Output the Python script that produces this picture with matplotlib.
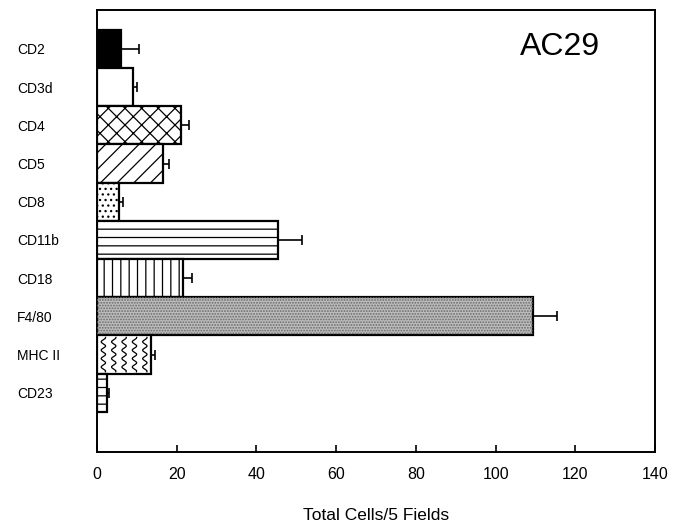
import numpy as np
import matplotlib
matplotlib.use("Agg")
import matplotlib.pyplot as plt

plt.rcParams['font.family'] = ['Liberation Sans', 'DejaVu Sans']
plt.rcParams['hatch.linewidth'] = 0.9

categories = ['CD2', 'CD3d', 'CD4', 'CD5', 'CD8', 'CD11b', 'CD18', 'F4/80', 'MHC II', 'CD23']
values = [6.0, 9.0, 21.0, 16.5, 5.5, 45.5, 21.5, 109.5, 13.5, 2.5]
errors = [4.5, 1.0, 2.0, 1.5, 1.0, 6.0, 2.3, 6.0, 1.0, 0.6]
xticks = [0, 20, 40, 60, 80, 100, 120, 140]

faces = ['black', 'white', 'white', 'white', 'white', 'white', 'white', '#bdbdbd', 'white', 'white']
hatches = [None, None, 'xx', '//', '...', '--', '||', None, None, '--']

fig = plt.figure(figsize=(6.9, 5.28), dpi=100)
ax = fig.add_axes([97/690, 1-452/528, (655-97)/690, (452-10)/528])

y = np.arange(len(categories))
bars = ax.barh(y, values, height=1.0, color=faces, edgecolor='black', linewidth=1.6, zorder=3)
for b, h in zip(bars, hatches):
    if h:
        b.set_hatch(h)

# stipple texture for F4/80
fb = bars[7]
tex = ax.barh([7], [values[7]], height=1.0, color='none', edgecolor='#6a6a6a',
              linewidth=0, hatch='......', zorder=3.5)

# wavy texture for MHC II
wb = bars[8]
yy = np.linspace(8 - 0.45, 8 + 0.45, 200)
for xc in np.arange(1.6, values[8], 2.6):
    xx = xc + 0.55 * np.sin((yy - 7.5) * 2 * np.pi / 0.22)
    ln, = ax.plot(xx, yy, color='black', lw=0.9, zorder=3.6)
    ln.set_clip_path(wb)

ax.errorbar(values, y, xerr=[np.zeros(len(errors)), errors], fmt='none',
            ecolor='black', elinewidth=1.2, capsize=3.3, capthick=1.2, zorder=4)

ax.set_xlim(0, 140)
ax.set_ylim(10.55, -1.02)
ax.set_xticks(xticks)
ax.tick_params(axis='x', direction='in', length=5, width=1.2, labelsize=11.5, pad=10.5)
ax.set_yticks(y, categories)
ax.tick_params(axis='y', length=0, labelsize=10, pad=57.6)
for lab in ax.get_yticklabels():
    lab.set_horizontalalignment('left')

for s in ax.spines.values():
    s.set_linewidth(1.4)

ax.set_xlabel('Total Cells/5 Fields', fontsize=12.5, labelpad=19)
ax.text(0.758, 0.898, 'AC29', transform=ax.transAxes, fontsize=23,
        ha='left', va='baseline')

fig.savefig('out.png', dpi=100)
